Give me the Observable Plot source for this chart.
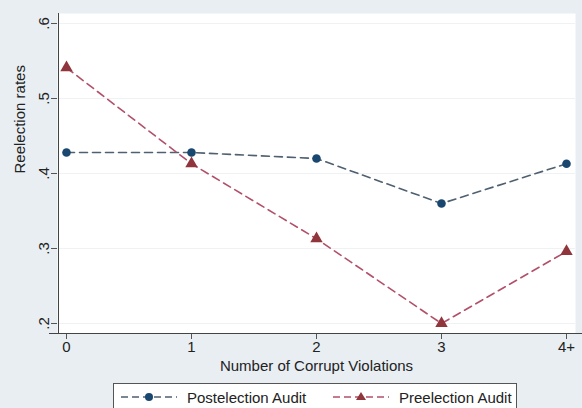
<!DOCTYPE html>
<html>
<head>
<meta charset="utf-8">
<script src="https://cdn.jsdelivr.net/npm/d3@7"></script>
<script src="https://cdn.jsdelivr.net/npm/@observablehq/plot@0.6"></script>
<style>
  html, body { margin: 0; padding: 0; background: #e8eef2; overflow: hidden; }
  #wrap { position: relative; width: 582px; height: 408px; font-family: "Liberation Sans", Arial, sans-serif; }
  #legend { position: absolute; left: 113px; top: 383px; width: 404px; height: 30px; background: #fff; border: 1px solid #555; box-sizing: border-box; font-size: 15px; color: #222; }
  .item { position: absolute; top: 3px; display: flex; align-items: center; }
  .item svg { margin-right: 10px; }
</style>
</head>
<body>
<div id="wrap">
  <div id="chart"></div>
  <div id="legend"></div>
</div>
<script>
const categories = ["0", "1", "2", "3", "4+"];
const postelection = [0.428, 0.428, 0.420, 0.360, 0.413];
const preelection = [0.541, 0.413, 0.313, 0.200, 0.296];
const yTicks = [0.2, 0.3, 0.4, 0.5, 0.6];
const seriesNames = ["Postelection Audit", "Preelection Audit"];

const postMarker = "#1a476f", postLine = "#4f6070";
const preMarker = "#90353b", preLine = "#b2506a";

const postData = categories.map((c, i) => ({x: c, y: postelection[i]}));
const preData = categories.map((c, i) => ({x: c, y: preelection[i]}));
const fmt = d => d3.format(".1f")(d).replace(/^0/, "");

const chart = Plot.plot({
  width: 582,
  height: 408,
  marginLeft: 57,
  marginRight: 7,
  marginTop: 13,
  marginBottom: 75,
  insetLeft: 8,
  insetRight: 9,
  insetTop: 10,
  insetBottom: 10,
  style: {background: "transparent", fontFamily: "Liberation Sans, Arial, sans-serif", fontSize: "15px", color: "#333"},
  x: {type: "point", domain: categories, padding: 0},
  y: {domain: [0.2, 0.6]},
  marks: [
    Plot.frame({fill: "white", stroke: null}),
    Plot.ruleY(yTicks, {stroke: "#eef2f5", strokeWidth: 1}),
    Plot.axisX({ticks: categories, label: null, tickSize: 6, tickPadding: 2, fontSize: 15, stroke: "#555", fill: "#222"}),
    Plot.axisY({ticks: yTicks, tickFormat: fmt, tickRotate: -90, label: null, tickSize: 6, tickPadding: 3, fontSize: 15, stroke: "#555", fill: "#222"}),
    Plot.ruleX([categories[0]], {stroke: "#444", dx: -8}),
    Plot.ruleY([0.2], {stroke: "#444", dy: 10, insetLeft: -8, insetRight: -9}),
    Plot.line(postData, {x: "x", y: "y", stroke: postLine, strokeWidth: 1.6, strokeDasharray: "8,5"}),
    Plot.line(preData, {x: "x", y: "y", stroke: preLine, strokeWidth: 1.6, strokeDasharray: "8,5"}),
    Plot.dot(postData, {x: "x", y: "y", r: 4.3, fill: postMarker, stroke: null}),
    Plot.dot(preData, {x: "x", y: "y", r: 4.6, symbol: "triangle", fill: preMarker, stroke: null}),
    Plot.text(["Number of Corrupt Violations"], {frameAnchor: "bottom", dy: 33, text: d => d, fill: "#222", fontSize: 15, lineAnchor: "middle"}),
    Plot.text(["Reelection rates"], {frameAnchor: "left", dx: -37, text: d => d, rotate: -90, fill: "#222", fontSize: 15})
  ]
});
document.getElementById("chart").appendChild(chart);

const legend = document.getElementById("legend");
const specs = [
  {name: seriesNames[0], left: 7, line: postLine, marker: postMarker, shape: "circle"},
  {name: seriesNames[1], left: 219, line: preLine, marker: preMarker, shape: "triangle"}
];
for (const s of specs) {
  const div = document.createElement("div");
  div.className = "item";
  div.style.left = s.left + "px";
  const m = s.shape === "circle"
    ? `<circle cx="28" cy="10" r="4" fill="${s.marker}"/>`
    : `<path d="M28,5 L33,13 L23,13 Z" fill="${s.marker}"/>`;
  div.innerHTML = `<svg width="56" height="20"><line x1="0" y1="10" x2="56" y2="10" stroke="${s.line}" stroke-width="1.6" stroke-dasharray="7,4"/>${m}</svg><span>${s.name}</span>`;
  legend.appendChild(div);
}
</script>
</body>
</html>
